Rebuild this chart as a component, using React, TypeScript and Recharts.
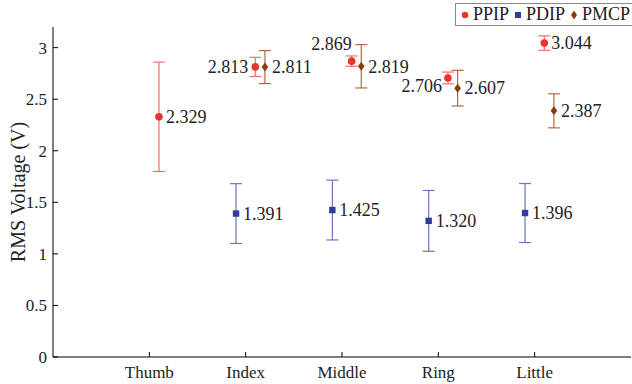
import React from 'react';
import { ScatterChart, Scatter, XAxis, YAxis, ErrorBar, Legend } from 'recharts';

// finger categories on the x axis
const categories = ['Thumb', 'Index', 'Middle', 'Ring', 'Little'];

// mean RMS voltage and error (half-length of bar) per finger
const ppipMean = [2.329, 2.813, 2.869, 2.706, 3.044];
const ppipErr = [0.53, 0.093, 0.05, 0.057, 0.07];
const pdipMean = [null, 1.391, 1.425, 1.32, 1.396];
const pdipErr = [null, 0.29, 0.29, 0.295, 0.286];
const pmcpMean = [null, 2.811, 2.819, 2.607, 2.387];
const pmcpErr = [null, 0.16, 0.21, 0.173, 0.165];

const yTicks = [0, 0.5, 1, 1.5, 2, 2.5, 3];
const xTicks = [1, 2, 3, 4, 5];

const FONT = "'Liberation Serif', 'DejaVu Serif', serif";

const colors = {
  ppip: '#e8352b',
  ppipBar: '#ee6f66',
  pdip: '#2b3e9c',
  pdipBar: '#6877bd',
  pmcp: '#8a3a0c',
  pmcpBar: '#b5683f',
  text: '#222',
};

// small horizontal shift so the three series don't overlap
const shift = { ppip: 0.1, pdip: -0.1, pmcp: 0.2 };

const build = (means: (number | null)[], errs: (number | null)[], dx: number) =>
  means
    .map((m, i) => (m == null ? null : { x: i + 1 + dx, y: m, err: errs[i], idx: i }))
    .filter(Boolean) as { x: number; y: number; err: number; idx: number }[];

// where the value text sits relative to the marker (default: right)
const labelSide: Record<string, string> = {
  'ppip-1': 'left',
  'ppip-2': 'upLeft',
  'ppip-3': 'downLeft',
};

const makeShape = (series: string, kind: string, color: string) => (props: any) => {
  const { cx, cy, payload } = props;
  if (cx == null || cy == null) return null;
  const side = labelSide[`${series}-${payload.idx}`] || 'right';
  let tx = cx + 7;
  let ty = cy;
  let anchor: 'start' | 'end' = 'start';
  if (side === 'left') {
    tx = cx - 7;
    anchor = 'end';
  } else if (side === 'upLeft') {
    tx = cx;
    ty = cy - 17;
    anchor = 'end';
  } else if (side === 'downLeft') {
    tx = cx - 6;
    ty = cy + 8;
    anchor = 'end';
  }
  let mark;
  if (kind === 'circle') mark = <circle cx={cx} cy={cy} r={3.8} fill={color} />;
  else if (kind === 'square') mark = <rect x={cx - 3.2} y={cy - 3.2} width={6.4} height={6.4} fill={color} />;
  else
    mark = (
      <path d={`M${cx},${cy - 4.5}L${cx + 3.3},${cy}L${cx},${cy + 4.5}L${cx - 3.3},${cy}Z`} fill={color} />
    );
  return (
    <g>
      {mark}
      <text
        x={tx}
        y={ty}
        dy="0.35em"
        textAnchor={anchor}
        fill={colors.text}
        style={{ fontFamily: FONT, fontSize: 18 }}
      >
        {payload.y.toFixed(3)}
      </text>
    </g>
  );
};

const LegendBox = () => {
  const items = [
    { name: 'PPIP', kind: 'circle', color: colors.ppip },
    { name: 'PDIP', kind: 'square', color: colors.pdip },
    { name: 'PMCP', kind: 'diamond', color: colors.pmcp },
  ];
  return (
    <div
      style={{
        border: '1px solid #8a8a8a',
        background: '#fff',
        display: 'flex',
        alignItems: 'center',
        height: 21,
        padding: '0 2px 0 4px',
        fontFamily: FONT,
        fontSize: 18,
        color: colors.text,
        whiteSpace: 'nowrap',
      }}
    >
      {items.map((it) => (
        <span key={it.name} style={{ display: 'flex', alignItems: 'center', marginRight: 4 }}>
          <svg width={10} height={10} style={{ marginRight: 3 }}>
            {it.kind === 'circle' && <circle cx={5} cy={5} r={3.2} fill={it.color} />}
            {it.kind === 'square' && <rect x={2} y={2} width={6} height={6} fill={it.color} />}
            {it.kind === 'diamond' && <path d="M5,0.5L8,5L5,9.5L2,5Z" fill={it.color} />}
          </svg>
          {it.name}
        </span>
      ))}
    </div>
  );
};

const YLabel = () => (
  <text
    x={18}
    y={192}
    transform="rotate(-90 18 192)"
    textAnchor="middle"
    dy="0.35em"
    fill={colors.text}
    style={{ fontFamily: FONT, fontSize: 20 }}
  >
    RMS Voltage (V)
  </text>
);

export default function App() {
  const ppip = build(ppipMean, ppipErr, shift.ppip);
  const pdip = build(pdipMean, pdipErr, shift.pdip);
  const pmcp = build(pmcpMean, pmcpErr, shift.pmcp);

  const tickStyle = { fill: colors.text, fontSize: 17, fontFamily: FONT };

  return (
    <div style={{ position: 'absolute', left: 0, top: 0, width: 632, height: 384, background: '#fff' }}>
      <ScatterChart width={632} height={384} margin={{ top: 27, right: 1, bottom: 0, left: 0 }}>
        <XAxis
          xAxisId="b"
          type="number"
          dataKey="x"
          domain={[0, 6]}
          ticks={xTicks}
          tickFormatter={(v: number) => categories[v - 1]}
          tickSize={-5}
          tickMargin={14}
          height={27}
          stroke="#000"
          tick={tickStyle}
          allowDataOverflow
        />
        <XAxis xAxisId="t" orientation="top" type="number" domain={[0, 6]} ticks={xTicks} tick={false} tickSize={-5} height={0} stroke="#000" />
        <YAxis
          yAxisId="l"
          type="number"
          dataKey="y"
          domain={[0, 3.2]}
          ticks={yTicks}
          tickFormatter={(v: number) => String(v)}
          tickSize={-5}
          tickMargin={11}
          width={53}
          stroke="#000"
          tick={tickStyle}
          allowDataOverflow
          label={<YLabel />}
        />
        <YAxis yAxisId="r" orientation="right" type="number" domain={[0, 3.2]} ticks={yTicks} tick={false} tickSize={-5} width={0} stroke="#000" />
        <Legend
          verticalAlign="middle"
          align="center"
          content={<LegendBox />}
          wrapperStyle={{ top: 3, left: 455, width: 'auto' }}
        />
        <Scatter name="PPIP" data={ppip} xAxisId="b" yAxisId="l" isAnimationActive={false} shape={makeShape('ppip', 'circle', colors.ppip)}>
          <ErrorBar dataKey="err" direction="y" width={6} stroke={colors.ppipBar} strokeWidth={1.2} />
        </Scatter>
        <Scatter name="PDIP" data={pdip} xAxisId="b" yAxisId="l" isAnimationActive={false} shape={makeShape('pdip', 'square', colors.pdip)}>
          <ErrorBar dataKey="err" direction="y" width={6} stroke={colors.pdipBar} strokeWidth={1.2} />
        </Scatter>
        <Scatter name="PMCP" data={pmcp} xAxisId="b" yAxisId="l" isAnimationActive={false} shape={makeShape('pmcp', 'diamond', colors.pmcp)}>
          <ErrorBar dataKey="err" direction="y" width={6} stroke={colors.pmcpBar} strokeWidth={1.2} />
        </Scatter>
      </ScatterChart>
    </div>
  );
}
